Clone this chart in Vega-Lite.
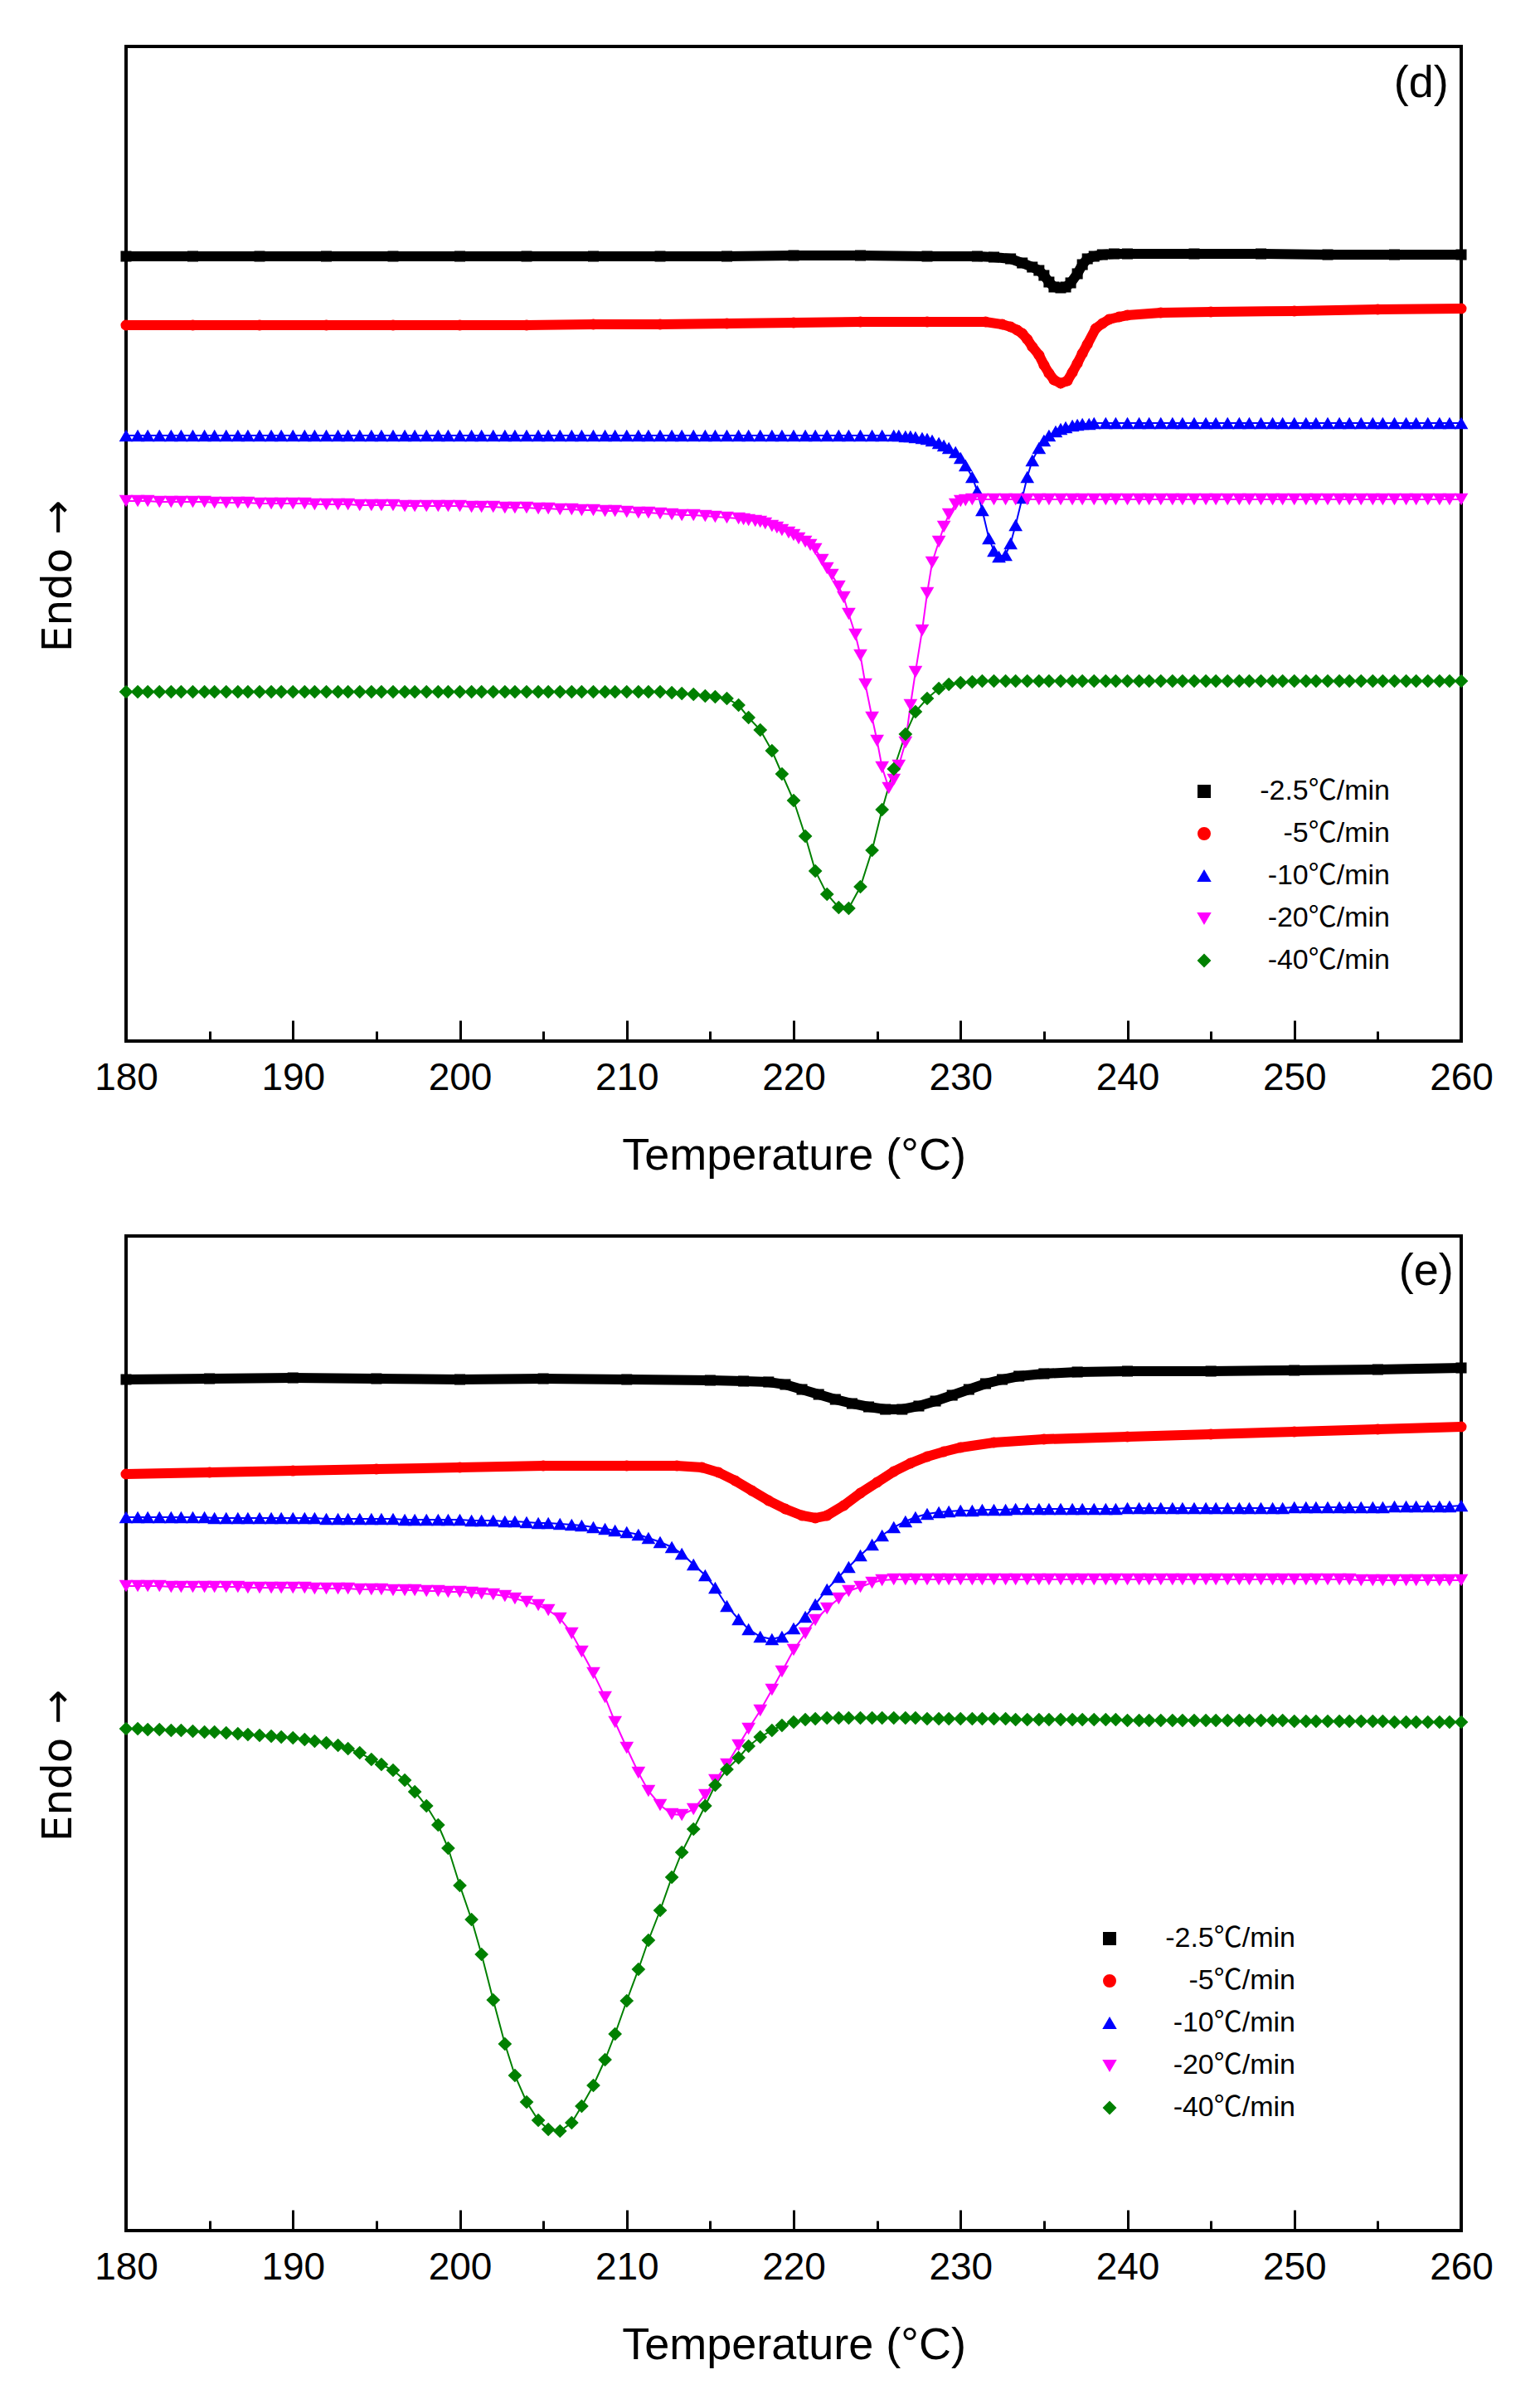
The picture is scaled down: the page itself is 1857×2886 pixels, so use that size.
{
"$schema":"https://vega.github.io/schema/vega-lite/v6.json",
"background":"white",
"padding":{"left":43,"top":54,"right":10,"bottom":10},
"bounds":"flush",
"spacing":235,
"config":{"font":"Liberation Sans","view":{"stroke":"#000000","strokeWidth":4}},
"resolve":{"legend":{"color":"independent","shape":"independent"}},
"datasets":{
"d":[
{"r":-2.5,"x":180,"y":946},{"r":-2.5,"x":184,"y":946},{"r":-2.5,"x":188,"y":946},{"r":-2.5,"x":192,"y":946},{"r":-2.5,"x":196,"y":946},{"r":-2.5,"x":200,"y":946},{"r":-2.5,"x":204,"y":946},{"r":-2.5,"x":208,"y":946},{"r":-2.5,"x":212,"y":946},{"r":-2.5,"x":216,"y":946},{"r":-2.5,"x":220,"y":947},{"r":-2.5,"x":224,"y":947},{"r":-2.5,"x":228,"y":946},{"r":-2.5,"x":231,"y":946},{"r":-2.5,"x":232,"y":945},{"r":-2.5,"x":233,"y":943},{"r":-2.5,"x":233.7,"y":938},{"r":-2.5,"x":234.3,"y":933},{"r":-2.5,"x":234.7,"y":929},{"r":-2.5,"x":235,"y":923},{"r":-2.5,"x":235.3,"y":915},{"r":-2.5,"x":235.6,"y":909},{"r":-2.5,"x":236,"y":908},{"r":-2.5,"x":236.3,"y":909},{"r":-2.5,"x":236.6,"y":914},{"r":-2.5,"x":237,"y":925},{"r":-2.5,"x":237.3,"y":936},{"r":-2.5,"x":237.6,"y":943},{"r":-2.5,"x":238,"y":946},{"r":-2.5,"x":238.5,"y":948},{"r":-2.5,"x":239.2,"y":949},{"r":-2.5,"x":240,"y":949},{"r":-2.5,"x":244,"y":949},{"r":-2.5,"x":248,"y":949},{"r":-2.5,"x":252,"y":948},{"r":-2.5,"x":256,"y":948},{"r":-2.5,"x":260,"y":948},
{"r":-5,"x":180,"y":863},{"r":-5,"x":184,"y":863},{"r":-5,"x":188,"y":863},{"r":-5,"x":192,"y":863},{"r":-5,"x":196,"y":863},{"r":-5,"x":200,"y":863},{"r":-5,"x":204,"y":863},{"r":-5,"x":208,"y":864},{"r":-5,"x":212,"y":864},{"r":-5,"x":216,"y":865},{"r":-5,"x":220,"y":866},{"r":-5,"x":224,"y":867},{"r":-5,"x":228,"y":867},{"r":-5,"x":231.5,"y":867},{"r":-5,"x":232.5,"y":864},{"r":-5,"x":233,"y":861},{"r":-5,"x":233.4,"y":857},{"r":-5,"x":233.7,"y":853},{"r":-5,"x":234,"y":846},{"r":-5,"x":234.3,"y":837},{"r":-5,"x":234.7,"y":827},{"r":-5,"x":235,"y":815},{"r":-5,"x":235.3,"y":805},{"r":-5,"x":235.6,"y":797},{"r":-5,"x":236,"y":793},{"r":-5,"x":236.4,"y":796},{"r":-5,"x":236.7,"y":806},{"r":-5,"x":237,"y":817},{"r":-5,"x":237.3,"y":829},{"r":-5,"x":237.6,"y":840},{"r":-5,"x":238.1,"y":859},{"r":-5,"x":238.5,"y":865},{"r":-5,"x":238.9,"y":870},{"r":-5,"x":239.5,"y":873},{"r":-5,"x":240,"y":875},{"r":-5,"x":242,"y":878},{"r":-5,"x":245,"y":879},{"r":-5,"x":250,"y":880},{"r":-5,"x":255,"y":882},{"r":-5,"x":260,"y":883},
{"r":-10,"x":180,"y":730},{"r":-10,"x":180.7,"y":730},{"r":-10,"x":181.3,"y":730},{"r":-10,"x":182,"y":730},{"r":-10,"x":182.7,"y":730},{"r":-10,"x":183.3,"y":730},{"r":-10,"x":184,"y":730},{"r":-10,"x":184.7,"y":730},{"r":-10,"x":185.3,"y":730},{"r":-10,"x":186,"y":730},{"r":-10,"x":186.7,"y":730},{"r":-10,"x":187.3,"y":730},{"r":-10,"x":188,"y":730},{"r":-10,"x":188.7,"y":730},{"r":-10,"x":189.3,"y":730},{"r":-10,"x":190,"y":730},{"r":-10,"x":190.7,"y":730},{"r":-10,"x":191.3,"y":730},{"r":-10,"x":192,"y":730},{"r":-10,"x":192.7,"y":730},{"r":-10,"x":193.3,"y":730},{"r":-10,"x":194,"y":730},{"r":-10,"x":194.7,"y":730},{"r":-10,"x":195.3,"y":730},{"r":-10,"x":196,"y":730},{"r":-10,"x":196.7,"y":730},{"r":-10,"x":197.3,"y":730},{"r":-10,"x":198,"y":730},{"r":-10,"x":198.7,"y":730},{"r":-10,"x":199.3,"y":730},{"r":-10,"x":200,"y":730},{"r":-10,"x":200.7,"y":730},{"r":-10,"x":201.3,"y":730},{"r":-10,"x":202,"y":730},{"r":-10,"x":202.7,"y":730},{"r":-10,"x":203.3,"y":730},{"r":-10,"x":204,"y":730},{"r":-10,"x":204.7,"y":730},{"r":-10,"x":205.3,"y":730},{"r":-10,"x":206,"y":730},{"r":-10,"x":206.7,"y":730},{"r":-10,"x":207.3,"y":730},{"r":-10,"x":208,"y":730},{"r":-10,"x":208.7,"y":730},{"r":-10,"x":209.3,"y":730},{"r":-10,"x":210,"y":730},{"r":-10,"x":210.7,"y":730},{"r":-10,"x":211.3,"y":730},{"r":-10,"x":212,"y":730},{"r":-10,"x":212.7,"y":730},{"r":-10,"x":213.3,"y":730},{"r":-10,"x":214,"y":730},{"r":-10,"x":214.7,"y":730},{"r":-10,"x":215.3,"y":730},{"r":-10,"x":216,"y":730},{"r":-10,"x":216.7,"y":730},{"r":-10,"x":217.3,"y":730},{"r":-10,"x":218,"y":730},{"r":-10,"x":218.7,"y":730},{"r":-10,"x":219.3,"y":730},{"r":-10,"x":220,"y":730},{"r":-10,"x":220.7,"y":730},{"r":-10,"x":221.3,"y":730},{"r":-10,"x":222,"y":730},{"r":-10,"x":222.7,"y":730},{"r":-10,"x":223.3,"y":730},{"r":-10,"x":224,"y":730},{"r":-10,"x":224.7,"y":730},{"r":-10,"x":225.3,"y":730},
{"r":-10,"x":226,"y":730},{"r":-10,"x":226.3,"y":730},{"r":-10,"x":226.7,"y":729},{"r":-10,"x":227,"y":729},{"r":-10,"x":227.3,"y":728},{"r":-10,"x":227.7,"y":727},{"r":-10,"x":228,"y":726},{"r":-10,"x":228.3,"y":724},{"r":-10,"x":228.7,"y":721},{"r":-10,"x":229,"y":718},{"r":-10,"x":229.3,"y":715},{"r":-10,"x":229.7,"y":710},{"r":-10,"x":230,"y":703},{"r":-10,"x":230.3,"y":694},{"r":-10,"x":230.7,"y":680},{"r":-10,"x":231,"y":663},{"r":-10,"x":231.3,"y":640},{"r":-10,"x":231.7,"y":606},{"r":-10,"x":232,"y":591},{"r":-10,"x":232.3,"y":584},{"r":-10,"x":232.7,"y":586},{"r":-10,"x":233,"y":600},{"r":-10,"x":233.3,"y":622},{"r":-10,"x":233.7,"y":655},{"r":-10,"x":234,"y":680},{"r":-10,"x":234.3,"y":700},{"r":-10,"x":234.7,"y":715},{"r":-10,"x":235,"y":724},{"r":-10,"x":235.3,"y":730},{"r":-10,"x":235.7,"y":735},{"r":-10,"x":236,"y":738},{"r":-10,"x":236.3,"y":740},{"r":-10,"x":236.7,"y":742},{"r":-10,"x":237,"y":743},{"r":-10,"x":237.3,"y":744},{"r":-10,"x":237.7,"y":744},{"r":-10,"x":238,"y":745},
{"r":-10,"x":238.7,"y":745},{"r":-10,"x":239.3,"y":745},{"r":-10,"x":240,"y":745},{"r":-10,"x":240.7,"y":745},{"r":-10,"x":241.3,"y":745},{"r":-10,"x":242,"y":745},{"r":-10,"x":242.7,"y":745},{"r":-10,"x":243.3,"y":745},{"r":-10,"x":244,"y":745},{"r":-10,"x":244.7,"y":745},{"r":-10,"x":245.3,"y":745},{"r":-10,"x":246,"y":745},{"r":-10,"x":246.7,"y":745},{"r":-10,"x":247.3,"y":745},{"r":-10,"x":248,"y":745},{"r":-10,"x":248.7,"y":745},{"r":-10,"x":249.3,"y":745},{"r":-10,"x":250,"y":745},{"r":-10,"x":250.7,"y":745},{"r":-10,"x":251.3,"y":745},{"r":-10,"x":252,"y":745},{"r":-10,"x":252.7,"y":745},{"r":-10,"x":253.3,"y":745},{"r":-10,"x":254,"y":745},{"r":-10,"x":254.7,"y":745},{"r":-10,"x":255.3,"y":745},{"r":-10,"x":256,"y":745},{"r":-10,"x":256.7,"y":745},{"r":-10,"x":257.3,"y":745},{"r":-10,"x":258,"y":745},{"r":-10,"x":258.7,"y":745},{"r":-10,"x":259.3,"y":745},{"r":-10,"x":260,"y":745},
{"r":-20,"x":180,"y":651},{"r":-20,"x":180.7,"y":651},{"r":-20,"x":181.3,"y":651},{"r":-20,"x":182,"y":650},{"r":-20,"x":182.7,"y":650},{"r":-20,"x":183.3,"y":650},{"r":-20,"x":184,"y":650},{"r":-20,"x":184.7,"y":650},{"r":-20,"x":185.3,"y":649},{"r":-20,"x":186,"y":649},{"r":-20,"x":186.7,"y":649},{"r":-20,"x":187.3,"y":649},{"r":-20,"x":188,"y":648},{"r":-20,"x":188.7,"y":648},{"r":-20,"x":189.3,"y":648},{"r":-20,"x":190,"y":648},{"r":-20,"x":190.7,"y":648},{"r":-20,"x":191.3,"y":647},{"r":-20,"x":192,"y":647},{"r":-20,"x":192.7,"y":647},{"r":-20,"x":193.3,"y":647},{"r":-20,"x":194,"y":646},{"r":-20,"x":194.7,"y":646},{"r":-20,"x":195.3,"y":646},{"r":-20,"x":196,"y":646},{"r":-20,"x":196.7,"y":645},{"r":-20,"x":197.3,"y":645},{"r":-20,"x":198,"y":645},{"r":-20,"x":198.7,"y":645},{"r":-20,"x":199.3,"y":645},{"r":-20,"x":200,"y":645},{"r":-20,"x":200.7,"y":644},{"r":-20,"x":201.3,"y":644},{"r":-20,"x":202,"y":644},{"r":-20,"x":202.7,"y":643},{"r":-20,"x":203.3,"y":643},{"r":-20,"x":204,"y":643},{"r":-20,"x":204.7,"y":642},{"r":-20,"x":205.3,"y":642},{"r":-20,"x":206,"y":641},{"r":-20,"x":206.7,"y":641},{"r":-20,"x":207.3,"y":640},{"r":-20,"x":208,"y":640},{"r":-20,"x":208.7,"y":639},{"r":-20,"x":209.3,"y":639},{"r":-20,"x":210,"y":638},{"r":-20,"x":210.7,"y":637},{"r":-20,"x":211.3,"y":637},{"r":-20,"x":212,"y":636},{"r":-20,"x":212.7,"y":635},{"r":-20,"x":213.3,"y":634},{"r":-20,"x":214,"y":634},{"r":-20,"x":214.7,"y":633},{"r":-20,"x":215.3,"y":632},{"r":-20,"x":216,"y":631},{"r":-20,"x":216.7,"y":630},
{"r":-20,"x":217,"y":629},{"r":-20,"x":217.3,"y":628},{"r":-20,"x":217.7,"y":627},{"r":-20,"x":218,"y":626},{"r":-20,"x":218.3,"y":624},{"r":-20,"x":218.7,"y":621},{"r":-20,"x":219,"y":619},{"r":-20,"x":219.3,"y":616},{"r":-20,"x":219.7,"y":613},{"r":-20,"x":220,"y":610},{"r":-20,"x":220.3,"y":606},{"r":-20,"x":220.7,"y":602},{"r":-20,"x":221,"y":598},{"r":-20,"x":221.3,"y":593},{"r":-20,"x":221.7,"y":580},{"r":-20,"x":222,"y":570},{"r":-20,"x":222.3,"y":562},{"r":-20,"x":222.7,"y":548},{"r":-20,"x":223,"y":535},{"r":-20,"x":223.3,"y":515},{"r":-20,"x":223.7,"y":490},{"r":-20,"x":224,"y":465},{"r":-20,"x":224.3,"y":430},{"r":-20,"x":224.7,"y":390},{"r":-20,"x":225,"y":362},{"r":-20,"x":225.3,"y":330},{"r":-20,"x":225.7,"y":305},{"r":-20,"x":226,"y":315},{"r":-20,"x":226.3,"y":332},{"r":-20,"x":226.7,"y":360},{"r":-20,"x":227,"y":405},{"r":-20,"x":227.3,"y":445},{"r":-20,"x":227.7,"y":495},{"r":-20,"x":228,"y":540},{"r":-20,"x":228.3,"y":577},{"r":-20,"x":228.7,"y":602},{"r":-20,"x":229,"y":620},{"r":-20,"x":229.3,"y":635},{"r":-20,"x":229.7,"y":647},{"r":-20,"x":230,"y":651},{"r":-20,"x":230.3,"y":652},{"r":-20,"x":230.7,"y":653},
{"r":-20,"x":231.3,"y":653},{"r":-20,"x":232,"y":653},{"r":-20,"x":232.7,"y":653},{"r":-20,"x":233.3,"y":653},{"r":-20,"x":234,"y":653},{"r":-20,"x":234.7,"y":653},{"r":-20,"x":235.3,"y":653},{"r":-20,"x":236,"y":653},{"r":-20,"x":236.7,"y":653},{"r":-20,"x":237.3,"y":653},{"r":-20,"x":238,"y":653},{"r":-20,"x":238.7,"y":653},{"r":-20,"x":239.3,"y":653},{"r":-20,"x":240,"y":653},{"r":-20,"x":240.7,"y":653},{"r":-20,"x":241.3,"y":653},{"r":-20,"x":242,"y":653},{"r":-20,"x":242.7,"y":653},{"r":-20,"x":243.3,"y":653},{"r":-20,"x":244,"y":653},{"r":-20,"x":244.7,"y":653},{"r":-20,"x":245.3,"y":653},{"r":-20,"x":246,"y":653},{"r":-20,"x":246.7,"y":653},{"r":-20,"x":247.3,"y":653},{"r":-20,"x":248,"y":653},{"r":-20,"x":248.7,"y":653},{"r":-20,"x":249.3,"y":653},{"r":-20,"x":250,"y":653},{"r":-20,"x":250.7,"y":653},{"r":-20,"x":251.3,"y":653},{"r":-20,"x":252,"y":653},{"r":-20,"x":252.7,"y":653},{"r":-20,"x":253.3,"y":653},{"r":-20,"x":254,"y":653},{"r":-20,"x":254.7,"y":653},{"r":-20,"x":255.3,"y":653},{"r":-20,"x":256,"y":653},{"r":-20,"x":256.7,"y":653},{"r":-20,"x":257.3,"y":653},{"r":-20,"x":258,"y":653},{"r":-20,"x":258.7,"y":653},{"r":-20,"x":259.3,"y":653},{"r":-20,"x":260,"y":653},
{"r":-40,"x":180,"y":421},{"r":-40,"x":180.7,"y":421},{"r":-40,"x":181.3,"y":421},{"r":-40,"x":182,"y":421},{"r":-40,"x":182.7,"y":421},{"r":-40,"x":183.3,"y":421},{"r":-40,"x":184,"y":421},{"r":-40,"x":184.7,"y":421},{"r":-40,"x":185.3,"y":421},{"r":-40,"x":186,"y":421},{"r":-40,"x":186.7,"y":421},{"r":-40,"x":187.3,"y":421},{"r":-40,"x":188,"y":421},{"r":-40,"x":188.7,"y":421},{"r":-40,"x":189.3,"y":421},{"r":-40,"x":190,"y":421},{"r":-40,"x":190.7,"y":421},{"r":-40,"x":191.3,"y":421},{"r":-40,"x":192,"y":421},{"r":-40,"x":192.7,"y":421},{"r":-40,"x":193.3,"y":421},{"r":-40,"x":194,"y":421},{"r":-40,"x":194.7,"y":421},{"r":-40,"x":195.3,"y":421},{"r":-40,"x":196,"y":421},{"r":-40,"x":196.7,"y":421},{"r":-40,"x":197.3,"y":421},{"r":-40,"x":198,"y":421},{"r":-40,"x":198.7,"y":421},{"r":-40,"x":199.3,"y":421},{"r":-40,"x":200,"y":421},{"r":-40,"x":200.7,"y":421},{"r":-40,"x":201.3,"y":421},{"r":-40,"x":202,"y":421},{"r":-40,"x":202.7,"y":421},{"r":-40,"x":203.3,"y":421},{"r":-40,"x":204,"y":421},{"r":-40,"x":204.7,"y":421},{"r":-40,"x":205.3,"y":421},{"r":-40,"x":206,"y":421},{"r":-40,"x":206.7,"y":421},{"r":-40,"x":207.3,"y":421},{"r":-40,"x":208,"y":421},{"r":-40,"x":208.7,"y":421},{"r":-40,"x":209.3,"y":421},{"r":-40,"x":210,"y":421},{"r":-40,"x":210.7,"y":421},{"r":-40,"x":211.3,"y":421},{"r":-40,"x":212,"y":421},{"r":-40,"x":212.7,"y":420},{"r":-40,"x":213.3,"y":419},{"r":-40,"x":214,"y":418},{"r":-40,"x":214.7,"y":416},{"r":-40,"x":215.3,"y":415},{"r":-40,"x":216,"y":413},{"r":-40,"x":216.7,"y":405},{"r":-40,"x":217.3,"y":390},{"r":-40,"x":218,"y":375},{"r":-40,"x":218.7,"y":350},{"r":-40,"x":219.3,"y":322},{"r":-40,"x":220,"y":290},{"r":-40,"x":220.7,"y":247},{"r":-40,"x":221.3,"y":205},{"r":-40,"x":222,"y":177},{"r":-40,"x":222.7,"y":161},{"r":-40,"x":223.3,"y":160},{"r":-40,"x":224,"y":186},{"r":-40,"x":224.7,"y":230},{"r":-40,"x":225.3,"y":279},{"r":-40,"x":226,"y":328},{"r":-40,"x":226.7,"y":370},{"r":-40,"x":227.3,"y":397},{"r":-40,"x":228,"y":413},{"r":-40,"x":228.7,"y":425},{"r":-40,"x":229.3,"y":430},{"r":-40,"x":230,"y":432},{"r":-40,"x":230.7,"y":433},{"r":-40,"x":231.3,"y":434},{"r":-40,"x":232,"y":434},{"r":-40,"x":232.7,"y":434},{"r":-40,"x":233.3,"y":434},{"r":-40,"x":234,"y":434},{"r":-40,"x":234.7,"y":434},{"r":-40,"x":235.3,"y":434},{"r":-40,"x":236,"y":434},{"r":-40,"x":236.7,"y":434},{"r":-40,"x":237.3,"y":434},{"r":-40,"x":238,"y":434},{"r":-40,"x":238.7,"y":434},{"r":-40,"x":239.3,"y":434},{"r":-40,"x":240,"y":434},{"r":-40,"x":240.7,"y":434},{"r":-40,"x":241.3,"y":434},{"r":-40,"x":242,"y":434},{"r":-40,"x":242.7,"y":434},{"r":-40,"x":243.3,"y":434},{"r":-40,"x":244,"y":434},{"r":-40,"x":244.7,"y":434},{"r":-40,"x":245.3,"y":434},{"r":-40,"x":246,"y":434},{"r":-40,"x":246.7,"y":434},{"r":-40,"x":247.3,"y":434},{"r":-40,"x":248,"y":434},{"r":-40,"x":248.7,"y":434},{"r":-40,"x":249.3,"y":434},{"r":-40,"x":250,"y":434},{"r":-40,"x":250.7,"y":434},{"r":-40,"x":251.3,"y":434},{"r":-40,"x":252,"y":434},{"r":-40,"x":252.7,"y":434},{"r":-40,"x":253.3,"y":434},{"r":-40,"x":254,"y":434},{"r":-40,"x":254.7,"y":434},{"r":-40,"x":255.3,"y":434},{"r":-40,"x":256,"y":434},{"r":-40,"x":256.7,"y":434},{"r":-40,"x":257.3,"y":434},{"r":-40,"x":258,"y":434},{"r":-40,"x":258.7,"y":434},{"r":-40,"x":259.3,"y":434},{"r":-40,"x":260,"y":434}
],
"e":[
{"r":-2.5,"x":180,"y":1026},{"r":-2.5,"x":185,"y":1027},{"r":-2.5,"x":190,"y":1028},{"r":-2.5,"x":195,"y":1027},{"r":-2.5,"x":200,"y":1026},{"r":-2.5,"x":205,"y":1027},{"r":-2.5,"x":210,"y":1026},{"r":-2.5,"x":215,"y":1025},{"r":-2.5,"x":217,"y":1024},{"r":-2.5,"x":218.5,"y":1023},{"r":-2.5,"x":219.5,"y":1020},{"r":-2.5,"x":220.5,"y":1014},{"r":-2.5,"x":221.5,"y":1008},{"r":-2.5,"x":222.5,"y":1002},{"r":-2.5,"x":223.5,"y":997},{"r":-2.5,"x":224.5,"y":993},{"r":-2.5,"x":225.5,"y":990},{"r":-2.5,"x":226.5,"y":990},{"r":-2.5,"x":227.5,"y":994},{"r":-2.5,"x":228.5,"y":1000},{"r":-2.5,"x":229.5,"y":1007},{"r":-2.5,"x":230.5,"y":1014},{"r":-2.5,"x":231.5,"y":1021},{"r":-2.5,"x":232.5,"y":1026},{"r":-2.5,"x":233.5,"y":1030},{"r":-2.5,"x":235,"y":1033},{"r":-2.5,"x":237,"y":1035},{"r":-2.5,"x":240,"y":1036},{"r":-2.5,"x":245,"y":1036},{"r":-2.5,"x":250,"y":1037},{"r":-2.5,"x":255,"y":1038},{"r":-2.5,"x":260,"y":1040},
{"r":-5,"x":180,"y":912},{"r":-5,"x":185,"y":914},{"r":-5,"x":190,"y":916},{"r":-5,"x":195,"y":918},{"r":-5,"x":200,"y":920},{"r":-5,"x":205,"y":922},{"r":-5,"x":210,"y":922},{"r":-5,"x":213,"y":922},{"r":-5,"x":214.5,"y":920},{"r":-5,"x":215.5,"y":914},{"r":-5,"x":216.5,"y":904},{"r":-5,"x":217.5,"y":892},{"r":-5,"x":218.5,"y":880},{"r":-5,"x":219.5,"y":870},{"r":-5,"x":220.5,"y":862},{"r":-5,"x":221.3,"y":859},{"r":-5,"x":222,"y":862},{"r":-5,"x":223,"y":874},{"r":-5,"x":224,"y":889},{"r":-5,"x":225,"y":902},{"r":-5,"x":226,"y":915},{"r":-5,"x":227,"y":925},{"r":-5,"x":228,"y":933},{"r":-5,"x":229,"y":939},{"r":-5,"x":230,"y":944},{"r":-5,"x":232,"y":950},{"r":-5,"x":235,"y":954},{"r":-5,"x":240,"y":957},{"r":-5,"x":245,"y":960},{"r":-5,"x":250,"y":963},{"r":-5,"x":255,"y":966},{"r":-5,"x":260,"y":969},
{"r":-10,"x":180,"y":860},{"r":-10,"x":180.7,"y":860},{"r":-10,"x":181.3,"y":860},{"r":-10,"x":182,"y":860},{"r":-10,"x":182.7,"y":860},{"r":-10,"x":183.3,"y":860},{"r":-10,"x":184,"y":860},{"r":-10,"x":184.7,"y":860},{"r":-10,"x":185.3,"y":859},{"r":-10,"x":186,"y":859},{"r":-10,"x":186.7,"y":859},{"r":-10,"x":187.3,"y":859},{"r":-10,"x":188,"y":859},{"r":-10,"x":188.7,"y":859},{"r":-10,"x":189.3,"y":859},{"r":-10,"x":190,"y":859},{"r":-10,"x":190.7,"y":859},{"r":-10,"x":191.3,"y":859},{"r":-10,"x":192,"y":858},{"r":-10,"x":192.7,"y":858},{"r":-10,"x":193.3,"y":858},{"r":-10,"x":194,"y":858},{"r":-10,"x":194.7,"y":858},{"r":-10,"x":195.3,"y":858},{"r":-10,"x":196,"y":858},{"r":-10,"x":196.7,"y":857},{"r":-10,"x":197.3,"y":857},{"r":-10,"x":198,"y":857},{"r":-10,"x":198.7,"y":857},{"r":-10,"x":199.3,"y":857},{"r":-10,"x":200,"y":857},{"r":-10,"x":200.7,"y":856},{"r":-10,"x":201.3,"y":856},{"r":-10,"x":202,"y":856},{"r":-10,"x":202.7,"y":855},{"r":-10,"x":203.3,"y":855},{"r":-10,"x":204,"y":854},{"r":-10,"x":204.7,"y":853},{"r":-10,"x":205.3,"y":853},{"r":-10,"x":206,"y":852},{"r":-10,"x":206.7,"y":851},{"r":-10,"x":207.3,"y":850},{"r":-10,"x":208,"y":848},{"r":-10,"x":208.7,"y":846},{"r":-10,"x":209.3,"y":844},{"r":-10,"x":210,"y":842},{"r":-10,"x":210.7,"y":839},{"r":-10,"x":211.3,"y":835},{"r":-10,"x":212,"y":830},{"r":-10,"x":212.7,"y":824},{"r":-10,"x":213.3,"y":816},{"r":-10,"x":214,"y":803},{"r":-10,"x":214.7,"y":790},{"r":-10,"x":215.3,"y":775},{"r":-10,"x":216,"y":753},{"r":-10,"x":216.7,"y":737},{"r":-10,"x":217.3,"y":725},{"r":-10,"x":218,"y":716},{"r":-10,"x":218.7,"y":713},{"r":-10,"x":219.3,"y":716},{"r":-10,"x":220,"y":726},{"r":-10,"x":220.7,"y":740},{"r":-10,"x":221.3,"y":755},{"r":-10,"x":222,"y":773},{"r":-10,"x":222.7,"y":788},{"r":-10,"x":223.3,"y":800},{"r":-10,"x":224,"y":814},{"r":-10,"x":224.7,"y":827},{"r":-10,"x":225.3,"y":838},{"r":-10,"x":226,"y":848},{"r":-10,"x":226.7,"y":855},{"r":-10,"x":227.3,"y":860},{"r":-10,"x":228,"y":864},{"r":-10,"x":228.7,"y":866},{"r":-10,"x":229.3,"y":867},{"r":-10,"x":230,"y":868},{"r":-10,"x":230.7,"y":868},{"r":-10,"x":231.3,"y":869},{"r":-10,"x":232,"y":869},{"r":-10,"x":232.7,"y":869},{"r":-10,"x":233.3,"y":870},{"r":-10,"x":234,"y":870},{"r":-10,"x":234.7,"y":870},{"r":-10,"x":235.3,"y":870},{"r":-10,"x":236,"y":870},{"r":-10,"x":236.7,"y":870},{"r":-10,"x":237.3,"y":870},{"r":-10,"x":238,"y":870},{"r":-10,"x":238.7,"y":870},{"r":-10,"x":239.3,"y":870},{"r":-10,"x":240,"y":871},{"r":-10,"x":240.7,"y":871},{"r":-10,"x":241.3,"y":871},{"r":-10,"x":242,"y":871},{"r":-10,"x":242.7,"y":871},{"r":-10,"x":243.3,"y":871},{"r":-10,"x":244,"y":871},{"r":-10,"x":244.7,"y":871},{"r":-10,"x":245.3,"y":871},{"r":-10,"x":246,"y":871},{"r":-10,"x":246.7,"y":871},{"r":-10,"x":247.3,"y":871},{"r":-10,"x":248,"y":871},{"r":-10,"x":248.7,"y":871},{"r":-10,"x":249.3,"y":871},{"r":-10,"x":250,"y":872},{"r":-10,"x":250.7,"y":872},{"r":-10,"x":251.3,"y":872},{"r":-10,"x":252,"y":872},{"r":-10,"x":252.7,"y":872},{"r":-10,"x":253.3,"y":872},{"r":-10,"x":254,"y":872},{"r":-10,"x":254.7,"y":872},{"r":-10,"x":255.3,"y":872},{"r":-10,"x":256,"y":873},{"r":-10,"x":256.7,"y":873},{"r":-10,"x":257.3,"y":873},{"r":-10,"x":258,"y":873},{"r":-10,"x":258.7,"y":873},{"r":-10,"x":259.3,"y":873},{"r":-10,"x":260,"y":874},
{"r":-20,"x":180,"y":777},{"r":-20,"x":180.7,"y":777},{"r":-20,"x":181.3,"y":777},{"r":-20,"x":182,"y":777},{"r":-20,"x":182.7,"y":776},{"r":-20,"x":183.3,"y":776},{"r":-20,"x":184,"y":776},{"r":-20,"x":184.7,"y":776},{"r":-20,"x":185.3,"y":776},{"r":-20,"x":186,"y":776},{"r":-20,"x":186.7,"y":776},{"r":-20,"x":187.3,"y":775},{"r":-20,"x":188,"y":775},{"r":-20,"x":188.7,"y":775},{"r":-20,"x":189.3,"y":775},{"r":-20,"x":190,"y":775},{"r":-20,"x":190.7,"y":775},{"r":-20,"x":191.3,"y":774},{"r":-20,"x":192,"y":774},{"r":-20,"x":192.7,"y":774},{"r":-20,"x":193.3,"y":774},{"r":-20,"x":194,"y":773},{"r":-20,"x":194.7,"y":773},{"r":-20,"x":195.3,"y":773},{"r":-20,"x":196,"y":772},{"r":-20,"x":196.7,"y":772},{"r":-20,"x":197.3,"y":772},{"r":-20,"x":198,"y":771},{"r":-20,"x":198.7,"y":771},{"r":-20,"x":199.3,"y":770},{"r":-20,"x":200,"y":770},{"r":-20,"x":200.7,"y":769},{"r":-20,"x":201.3,"y":768},{"r":-20,"x":202,"y":767},{"r":-20,"x":202.7,"y":765},{"r":-20,"x":203.3,"y":762},{"r":-20,"x":204,"y":758},{"r":-20,"x":204.7,"y":754},{"r":-20,"x":205.3,"y":748},{"r":-20,"x":206,"y":738},{"r":-20,"x":206.7,"y":720},{"r":-20,"x":207.3,"y":698},{"r":-20,"x":208,"y":672},{"r":-20,"x":208.7,"y":643},{"r":-20,"x":209.3,"y":613},{"r":-20,"x":210,"y":582},{"r":-20,"x":210.7,"y":552},{"r":-20,"x":211.3,"y":530},{"r":-20,"x":212,"y":513},{"r":-20,"x":212.7,"y":502},{"r":-20,"x":213.3,"y":501},{"r":-20,"x":214,"y":508},{"r":-20,"x":214.7,"y":525},{"r":-20,"x":215.3,"y":543},{"r":-20,"x":216,"y":562},{"r":-20,"x":216.7,"y":585},{"r":-20,"x":217.3,"y":605},{"r":-20,"x":218,"y":627},{"r":-20,"x":218.7,"y":652},{"r":-20,"x":219.3,"y":674},{"r":-20,"x":220,"y":700},{"r":-20,"x":220.7,"y":720},{"r":-20,"x":221.3,"y":736},{"r":-20,"x":222,"y":750},{"r":-20,"x":222.7,"y":762},{"r":-20,"x":223.3,"y":771},{"r":-20,"x":224,"y":776},{"r":-20,"x":224.7,"y":781},{"r":-20,"x":225.3,"y":784},{"r":-20,"x":226,"y":785},{"r":-20,"x":226.7,"y":785},{"r":-20,"x":227.3,"y":785},{"r":-20,"x":228,"y":785},{"r":-20,"x":228.7,"y":785},{"r":-20,"x":229.3,"y":785},{"r":-20,"x":230,"y":785},{"r":-20,"x":230.7,"y":785},{"r":-20,"x":231.3,"y":785},{"r":-20,"x":232,"y":785},{"r":-20,"x":232.7,"y":785},{"r":-20,"x":233.3,"y":785},{"r":-20,"x":234,"y":785},{"r":-20,"x":234.7,"y":785},{"r":-20,"x":235.3,"y":785},{"r":-20,"x":236,"y":785},{"r":-20,"x":236.7,"y":785},{"r":-20,"x":237.3,"y":785},{"r":-20,"x":238,"y":785},{"r":-20,"x":238.7,"y":785},{"r":-20,"x":239.3,"y":785},{"r":-20,"x":240,"y":785},{"r":-20,"x":240.7,"y":785},{"r":-20,"x":241.3,"y":785},{"r":-20,"x":242,"y":785},{"r":-20,"x":242.7,"y":785},{"r":-20,"x":243.3,"y":785},{"r":-20,"x":244,"y":785},{"r":-20,"x":244.7,"y":785},{"r":-20,"x":245.3,"y":785},{"r":-20,"x":246,"y":785},{"r":-20,"x":246.7,"y":785},{"r":-20,"x":247.3,"y":785},{"r":-20,"x":248,"y":785},{"r":-20,"x":248.7,"y":785},{"r":-20,"x":249.3,"y":785},{"r":-20,"x":250,"y":785},{"r":-20,"x":250.7,"y":785},{"r":-20,"x":251.3,"y":785},{"r":-20,"x":252,"y":785},{"r":-20,"x":252.7,"y":785},{"r":-20,"x":253.3,"y":785},{"r":-20,"x":254,"y":784},{"r":-20,"x":254.7,"y":784},{"r":-20,"x":255.3,"y":784},{"r":-20,"x":256,"y":784},{"r":-20,"x":256.7,"y":784},{"r":-20,"x":257.3,"y":784},{"r":-20,"x":258,"y":784},{"r":-20,"x":258.7,"y":784},{"r":-20,"x":259.3,"y":784},{"r":-20,"x":260,"y":784},
{"r":-40,"x":180,"y":605},{"r":-40,"x":180.7,"y":605},{"r":-40,"x":181.3,"y":604},{"r":-40,"x":182,"y":604},{"r":-40,"x":182.7,"y":603},{"r":-40,"x":183.3,"y":603},{"r":-40,"x":184,"y":602},{"r":-40,"x":184.7,"y":601},{"r":-40,"x":185.3,"y":601},{"r":-40,"x":186,"y":600},{"r":-40,"x":186.7,"y":599},{"r":-40,"x":187.3,"y":598},{"r":-40,"x":188,"y":597},{"r":-40,"x":188.7,"y":596},{"r":-40,"x":189.3,"y":595},{"r":-40,"x":190,"y":594},{"r":-40,"x":190.7,"y":592},{"r":-40,"x":191.3,"y":590},{"r":-40,"x":192,"y":588},{"r":-40,"x":192.7,"y":585},{"r":-40,"x":193.3,"y":581},{"r":-40,"x":194,"y":576},{"r":-40,"x":194.7,"y":568},{"r":-40,"x":195.3,"y":562},{"r":-40,"x":196,"y":555},{"r":-40,"x":196.7,"y":543},{"r":-40,"x":197.3,"y":529},{"r":-40,"x":198,"y":512},{"r":-40,"x":198.7,"y":489},{"r":-40,"x":199.3,"y":461},{"r":-40,"x":200,"y":416},{"r":-40,"x":200.7,"y":375},{"r":-40,"x":201.3,"y":333},{"r":-40,"x":202,"y":278},{"r":-40,"x":202.7,"y":225},{"r":-40,"x":203.3,"y":187},{"r":-40,"x":204,"y":155},{"r":-40,"x":204.7,"y":133},{"r":-40,"x":205.3,"y":122},{"r":-40,"x":206,"y":120},{"r":-40,"x":206.7,"y":130},{"r":-40,"x":207.3,"y":150},{"r":-40,"x":208,"y":175},{"r":-40,"x":208.7,"y":206},{"r":-40,"x":209.3,"y":237},{"r":-40,"x":210,"y":277},{"r":-40,"x":210.7,"y":315},{"r":-40,"x":211.3,"y":350},{"r":-40,"x":212,"y":386},{"r":-40,"x":212.7,"y":426},{"r":-40,"x":213.3,"y":456},{"r":-40,"x":214,"y":484},{"r":-40,"x":214.7,"y":512},{"r":-40,"x":215.3,"y":537},{"r":-40,"x":216,"y":556},{"r":-40,"x":216.7,"y":570},{"r":-40,"x":217.3,"y":584},{"r":-40,"x":218,"y":595},{"r":-40,"x":218.7,"y":603},{"r":-40,"x":219.3,"y":609},{"r":-40,"x":220,"y":613},{"r":-40,"x":220.7,"y":616},{"r":-40,"x":221.3,"y":617},{"r":-40,"x":222,"y":618},{"r":-40,"x":222.7,"y":618},{"r":-40,"x":223.3,"y":618},{"r":-40,"x":224,"y":618},{"r":-40,"x":224.7,"y":618},{"r":-40,"x":225.3,"y":618},{"r":-40,"x":226,"y":618},{"r":-40,"x":226.7,"y":618},{"r":-40,"x":227.3,"y":618},{"r":-40,"x":228,"y":617},{"r":-40,"x":228.7,"y":617},{"r":-40,"x":229.3,"y":617},{"r":-40,"x":230,"y":617},{"r":-40,"x":230.7,"y":617},{"r":-40,"x":231.3,"y":617},{"r":-40,"x":232,"y":617},{"r":-40,"x":232.7,"y":617},{"r":-40,"x":233.3,"y":616},{"r":-40,"x":234,"y":616},{"r":-40,"x":234.7,"y":616},{"r":-40,"x":235.3,"y":616},{"r":-40,"x":236,"y":616},{"r":-40,"x":236.7,"y":616},{"r":-40,"x":237.3,"y":616},{"r":-40,"x":238,"y":616},{"r":-40,"x":238.7,"y":616},{"r":-40,"x":239.3,"y":616},{"r":-40,"x":240,"y":615},{"r":-40,"x":240.7,"y":615},{"r":-40,"x":241.3,"y":615},{"r":-40,"x":242,"y":615},{"r":-40,"x":242.7,"y":615},{"r":-40,"x":243.3,"y":615},{"r":-40,"x":244,"y":615},{"r":-40,"x":244.7,"y":615},{"r":-40,"x":245.3,"y":615},{"r":-40,"x":246,"y":615},{"r":-40,"x":246.7,"y":615},{"r":-40,"x":247.3,"y":615},{"r":-40,"x":248,"y":615},{"r":-40,"x":248.7,"y":615},{"r":-40,"x":249.3,"y":615},{"r":-40,"x":250,"y":614},{"r":-40,"x":250.7,"y":614},{"r":-40,"x":251.3,"y":614},{"r":-40,"x":252,"y":614},{"r":-40,"x":252.7,"y":614},{"r":-40,"x":253.3,"y":614},{"r":-40,"x":254,"y":614},{"r":-40,"x":254.7,"y":614},{"r":-40,"x":255.3,"y":614},{"r":-40,"x":256,"y":613},{"r":-40,"x":256.7,"y":613},{"r":-40,"x":257.3,"y":613},{"r":-40,"x":258,"y":613},{"r":-40,"x":258.7,"y":613},{"r":-40,"x":259.3,"y":613},{"r":-40,"x":260,"y":613}
]
},
"vconcat":[
{
"width":1610,"height":1199,
"layer":[
{"data":{"name":"d"},"mark":{"type":"line"},
"encoding":{
"x":{"field":"x","type":"quantitative","scale":{"domain":[180,260],"nice":false,"zero":false},
"axis":{"values":[180,185,190,195,200,205,210,215,220,225,230,235,240,245,250,255,260],"labelExpr":"datum.value % 10 === 0 ? datum.label : ''","tickSize":{"condition":{"test":"datum.value % 10 === 0","value":-25},"value":-12},"tickWidth":3,"tickColor":"#000000","domain":false,"grid":false,"labelFontSize":46,"labelFont":"Liberation Sans","labelColor":"#000000","labelPadding":47,"labelFlush":false,"title":"Temperature (°C)","titleFont":"Liberation Sans","titleFontSize":54,"titleFontWeight":"normal","titleColor":"#000000","titleX":805,"titleY":138,"titleBaseline":"middle","titleAlign":"center"}},
"y":{"field":"y","type":"quantitative","scale":{"domain":[0,1199],"nice":false,"zero":false},
"axis":{"ticks":false,"labels":false,"domain":false,"grid":false,"title":"Endo →","titleFont":"DejaVu Sans","titleFontSize":50,"titleFontWeight":"normal","titleColor":"#000000","titleX":-82,"titleY":638,"titleAngle":-90,"titleBaseline":"middle","titleAlign":"center"}},
"color":{"field":"r","type":"nominal","scale":{"domain":[-2.5,-5,-10,-20,-40],"range":["#000000","#ff0000","#0000ff","#ff00ff","#008000"]}},
"strokeWidth":{"condition":{"test":"datum.r > -6","value":12},"value":2}
}},
{"data":{"name":"d"},"mark":{"type":"point","filled":true,"opacity":1},
"encoding":{
"x":{"field":"x","type":"quantitative"},
"y":{"field":"y","type":"quantitative"},
"size":{"condition":{"test":"datum.r > -6","value":170},"value":280},
"color":{"field":"r","type":"nominal","scale":{"domain":[-2.5,-5,-10,-20,-40],"range":["#000000","#ff0000","#0000ff","#ff00ff","#008000"]},
"legend":{"title":null,"orient":"none","legendX":1283,"legendY":881,"padding":0,"symbolSize":196,"symbolStrokeWidth":2,"labelFontSize":34,"labelFont":"Liberation Sans, Noto Sans CJK SC","labelColor":"#000000","labelAlign":"right","labelOffset":207,"rowPadding":17,"labelExpr":"datum.label + '℃/min'"}},
"shape":{"field":"r","type":"nominal","scale":{"domain":[-2.5,-5,-10,-20,-40],"range":["square","circle","triangle-up","triangle-down","diamond"]},
"legend":{"title":null,"orient":"none","legendX":1283,"legendY":881,"padding":0,"symbolSize":196,"symbolStrokeWidth":2,"labelFontSize":34,"labelFont":"Liberation Sans, Noto Sans CJK SC","labelColor":"#000000","labelAlign":"right","labelOffset":207,"rowPadding":17,"labelExpr":"datum.label + '℃/min'"}}
}},
{"data":{"values":[{"x":257.6,"y":1154,"t":"(d)"}]},"mark":{"type":"text","fontSize":54,"font":"Liberation Sans","color":"#000000","align":"center","baseline":"middle"},
"encoding":{"x":{"field":"x","type":"quantitative"},"y":{"field":"y","type":"quantitative"},"text":{"field":"t"}}}
]
},
{
"width":1610,"height":1199,
"layer":[
{"data":{"name":"e"},"mark":{"type":"line"},
"encoding":{
"x":{"field":"x","type":"quantitative","scale":{"domain":[180,260],"nice":false,"zero":false},
"axis":{"values":[180,185,190,195,200,205,210,215,220,225,230,235,240,245,250,255,260],"labelExpr":"datum.value % 10 === 0 ? datum.label : ''","tickSize":{"condition":{"test":"datum.value % 10 === 0","value":-25},"value":-12},"tickWidth":3,"tickColor":"#000000","domain":false,"grid":false,"labelFontSize":46,"labelFont":"Liberation Sans","labelColor":"#000000","labelPadding":47,"labelFlush":false,"title":"Temperature (°C)","titleFont":"Liberation Sans","titleFontSize":54,"titleFontWeight":"normal","titleColor":"#000000","titleX":805,"titleY":138,"titleBaseline":"middle","titleAlign":"center"}},
"y":{"field":"y","type":"quantitative","scale":{"domain":[0,1199],"nice":false,"zero":false},
"axis":{"ticks":false,"labels":false,"domain":false,"grid":false,"title":"Endo →","titleFont":"DejaVu Sans","titleFontSize":50,"titleFontWeight":"normal","titleColor":"#000000","titleX":-82,"titleY":638,"titleAngle":-90,"titleBaseline":"middle","titleAlign":"center"}},
"color":{"field":"r","type":"nominal","scale":{"domain":[-2.5,-5,-10,-20,-40],"range":["#000000","#ff0000","#0000ff","#ff00ff","#008000"]}},
"strokeWidth":{"condition":{"test":"datum.r > -6","value":12},"value":2}
}},
{"data":{"name":"e"},"mark":{"type":"point","filled":true,"opacity":1},
"encoding":{
"x":{"field":"x","type":"quantitative"},
"y":{"field":"y","type":"quantitative"},
"size":{"condition":{"test":"datum.r > -6","value":170},"value":280},
"color":{"field":"r","type":"nominal","scale":{"domain":[-2.5,-5,-10,-20,-40],"range":["#000000","#ff0000","#0000ff","#ff00ff","#008000"]},
"legend":{"title":null,"orient":"none","legendX":1169,"legendY":830,"padding":0,"symbolSize":196,"symbolStrokeWidth":2,"labelFontSize":34,"labelFont":"Liberation Sans, Noto Sans CJK SC","labelColor":"#000000","labelAlign":"right","labelOffset":207,"rowPadding":17,"labelExpr":"datum.label + '℃/min'"}},
"shape":{"field":"r","type":"nominal","scale":{"domain":[-2.5,-5,-10,-20,-40],"range":["square","circle","triangle-up","triangle-down","diamond"]},
"legend":{"title":null,"orient":"none","legendX":1169,"legendY":830,"padding":0,"symbolSize":196,"symbolStrokeWidth":2,"labelFontSize":34,"labelFont":"Liberation Sans, Noto Sans CJK SC","labelColor":"#000000","labelAlign":"right","labelOffset":207,"rowPadding":17,"labelExpr":"datum.label + '℃/min'"}}
}},
{"data":{"values":[{"x":257.9,"y":1156,"t":"(e)"}]},"mark":{"type":"text","fontSize":54,"font":"Liberation Sans","color":"#000000","align":"center","baseline":"middle"},
"encoding":{"x":{"field":"x","type":"quantitative"},"y":{"field":"y","type":"quantitative"},"text":{"field":"t"}}}
]
}
]
}
